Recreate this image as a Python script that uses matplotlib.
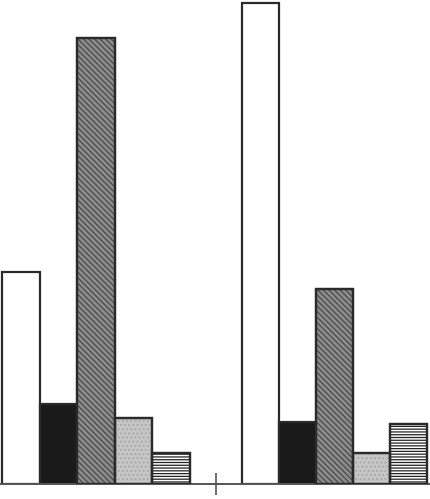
import matplotlib.pyplot as plt
import numpy as np

plt.rcParams['hatch.linewidth'] = 0.9

# two groups, five bars each (heights, arbitrary units)
groups = ['A', 'B']
series = ['white', 'black', 'hatched', 'dotted', 'striped']
group_a = [212, 80, 446, 66, 31]
group_b = [481, 62, 195, 31, 60]

faces = ['white', '#1a1a1a', '#8c8c8c', '#c6c6c6', 'white']
hatches = [None, None, '\\\\\\\\\\\\', '....', '------']
hatch_cols = ['#222222', '#222222', '#4a4a4a', '#a8a8a8', '#222222']

fig = plt.figure(figsize=(4.31, 4.99), dpi=100)
ax = fig.add_axes([0, 15 / 499, 1, 484 / 499])

starts = [0.0, 6.4]
widths = [1.0, 0.986]
for g, vals in enumerate([group_a, group_b]):
    w = widths[g]
    x = starts[g] + np.arange(len(vals)) * w
    for i, v in enumerate(vals):
        ax.bar(x[i], v, width=w, align='edge', color=faces[i],
               edgecolor='#2a2a2a', linewidth=1.6, zorder=2)
        if hatches[i]:
            ax.bar(x[i], v, width=w, align='edge', color='none',
                   edgecolor=hatch_cols[i], linewidth=0, hatch=hatches[i],
                   zorder=3)
            ax.bar(x[i], v, width=w, align='edge', color='none',
                   edgecolor='#2a2a2a', linewidth=1.6, zorder=4)

ax.set_xlim(-2 / 37.5, (431 - 2) / 37.5)
ax.set_ylim(0, 484)

for s in ['top', 'right', 'left']:
    ax.spines[s].set_visible(False)
ax.spines['bottom'].set_linewidth(1.4)
ax.spines['bottom'].set_color('#555555')
ax.set_yticks([])
ax.set_xticks([(5 * widths[0] + starts[1]) / 2])
ax.set_xticklabels([])
ax.tick_params(axis='x', direction='inout', length=16, width=1.2, color='#555555')

fig.savefig('out.png', dpi=100)
